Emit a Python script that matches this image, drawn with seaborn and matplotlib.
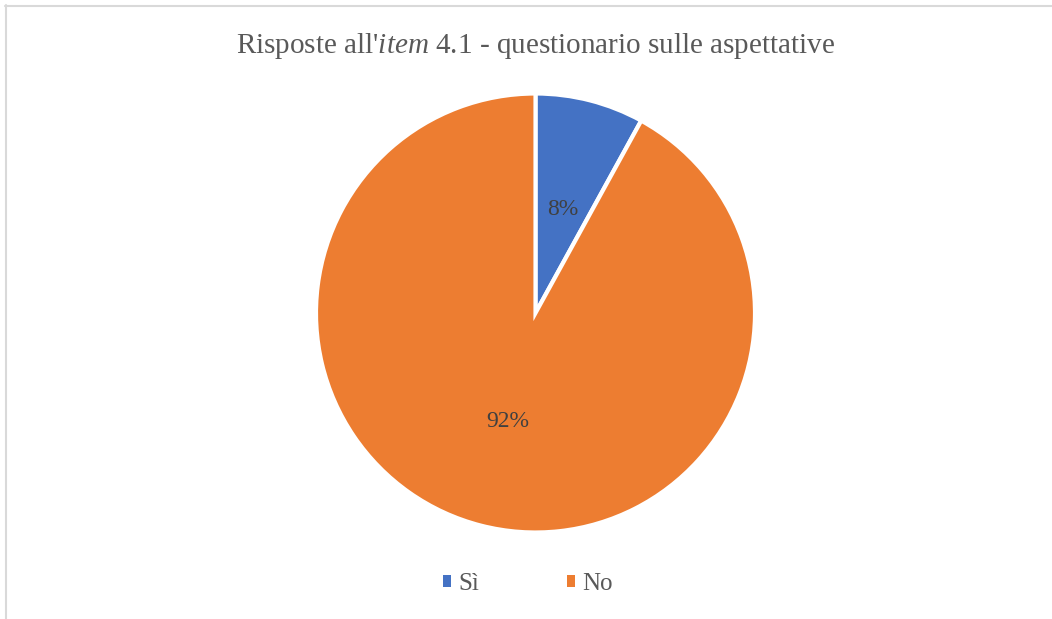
import matplotlib
matplotlib.use("Agg")
import matplotlib.pyplot as plt
import seaborn as sns
from matplotlib.lines import Line2D
from matplotlib.patches import Patch

categories = ["Sì", "No"]
values = [8, 92]
colors = ["#4472C4", "#ED7D31"]
title = r"Risposte all'$\mathit{item}$ 4.1 - questionario sulle aspettative"

sns.set_theme(style="white")
plt.rcParams['font.family'] = ['Liberation Serif', 'DejaVu Serif']
plt.rcParams['mathtext.fontset'] = 'custom'
plt.rcParams['mathtext.rm'] = 'Liberation Serif'
plt.rcParams['mathtext.it'] = 'Liberation Serif:italic'

W, H = 1052, 619
fig = plt.figure(figsize=(W/100, H/100), dpi=100)
fig.patch.set_facecolor("white")

r = 219.5
cx, cy = 535.5, 313
ax = fig.add_axes([(cx - r)/W, 1 - (cy + r)/H, 2*r/W, 2*r/H])
wedges, texts, autotexts = ax.pie(
    values, colors=colors, startangle=90, counterclock=False,
    autopct=lambda p: f"{p:.0f}%", pctdistance=0.5,
    wedgeprops=dict(edgecolor="white", linewidth=3),
    textprops=dict(color="#404040", fontsize=17),
    radius=1.0)
for t in autotexts:
    x, y = t.get_position()
    t.set_position((x, y - 0.012))
ax.set_xlim(-1, 1); ax.set_ylim(-1, 1)
ax.set_aspect("equal")
ax.axis("off")

fig.text(cx/W, 1 - 46/H, title, ha="center", va="center", fontsize=21, color="#595959")

handles = [Patch(facecolor=c, edgecolor="none") for c in colors]
fig.legend(handles, categories, loc="center", bbox_to_anchor=(528/W, 1 - 584/H),
           ncol=2, frameon=False, fontsize=18, labelcolor="#595959",
           handlelength=0.32, handleheight=0.32, handletextpad=0.3, columnspacing=3.5)

# chart border (light gray)
fig.add_artist(Line2D([5/W, 1], [1 - 5.5/H, 1 - 5.5/H], color="#D9D9D9", lw=1.5, transform=fig.transFigure))
fig.add_artist(Line2D([5.5/W, 5.5/W], [0, 1 - 5/H], color="#D9D9D9", lw=1.5, transform=fig.transFigure))

fig.savefig("out.png", dpi=100)
